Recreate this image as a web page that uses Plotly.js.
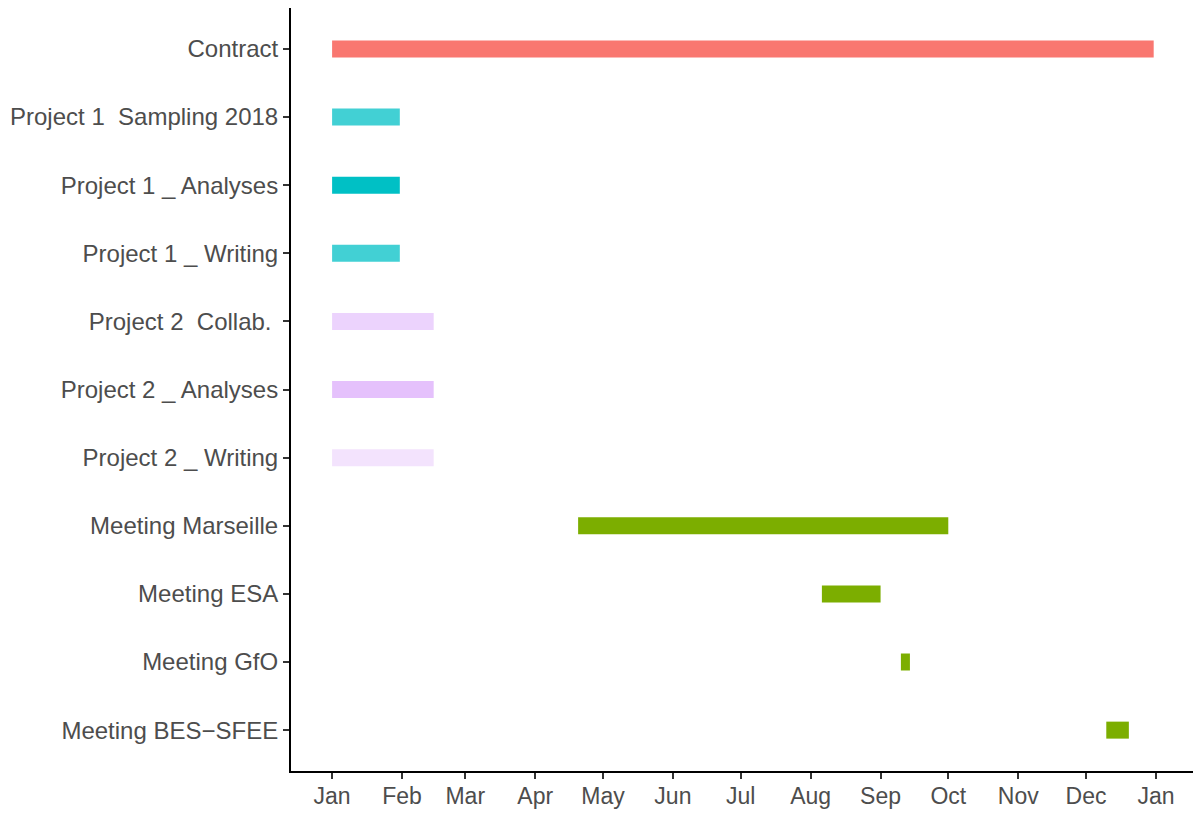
<!DOCTYPE html>
<html>
<head>
<meta charset="utf-8">
<script src="https://cdn.plot.ly/plotly-3.0.1.min.js"></script>
<style>html,body{margin:0;padding:0;background:#fff;}#chart{width:1198px;height:813px;}</style>
</head>
<body>
<div id="chart"></div>
<script>
var tasks = ["Contract", "Project 1\u00a0 Sampling 2018", "Project 1 _ Analyses", "Project 1 _ Writing",
  "Project 2\u00a0 Collab.\u00a0", "Project 2 _ Analyses", "Project 2 _ Writing",
  "Meeting Marseille", "Meeting ESA", "Meeting GfO", "Meeting BES\u2212SFEE"];
var starts = ["2018-01-01", "2018-01-01", "2018-01-01", "2018-01-01", "2018-01-01", "2018-01-01", "2018-01-01",
  "2018-04-20", "2018-08-06", "2018-09-10", "2018-12-10"];
var ends = ["2018-12-31", "2018-01-31", "2018-01-31", "2018-01-31", "2018-02-15", "2018-02-15", "2018-02-15",
  "2018-10-01", "2018-09-01", "2018-09-14", "2018-12-20"];
var colors = ["#F97770", "#42D0D4", "#00C0C5", "#42D0D4", "#ECD3FD", "#E5C1FC", "#F3E3FD",
  "#7CAE00", "#7CAE00", "#7CAE00", "#7CAE00"];

var traces = tasks.map(function (t, i) {
  return {
    type: "scatter", mode: "lines",
    x: [starts[i], ends[i]], y: [t, t],
    line: {color: colors[i], width: 17},
    hoverinfo: "x+y", showlegend: false
  };
});

var layout = {
  width: 1198, height: 813,
  margin: {l: 291, r: 5, t: 8, b: 42},
  paper_bgcolor: "#fff", plot_bgcolor: "#fff",
  font: {family: "Arial, Liberation Sans, sans-serif", size: 24, color: "#4D4D4D"},
  showlegend: false,
  xaxis: {
    type: "date",
    range: ["2017-12-13 19:00", "2019-01-17 10:00"],
    tick0: "2018-01-01", dtick: "M1", tickformat: "%b",
    showgrid: false, zeroline: false,
    showline: true, linecolor: "#000", linewidth: 2,
    ticks: "outside", ticklen: 6, tickwidth: 2, tickcolor: "#333",
    ticklabelstandoff: -3,
    tickfont: {size: 23, color: "#4D4D4D"}
  },
  yaxis: {
    type: "category",
    categoryorder: "array", categoryarray: tasks,
    range: [10.6, -0.6],
    showgrid: false, zeroline: false,
    showline: true, linecolor: "#000", linewidth: 2,
    ticks: "outside", ticklen: 6, tickwidth: 2, tickcolor: "#333",
    tickfont: {size: 24, color: "#4D4D4D"}
  }
};

Plotly.newPlot("chart", traces, layout, {displayModeBar: false, staticPlot: true});
</script>
</body>
</html>
